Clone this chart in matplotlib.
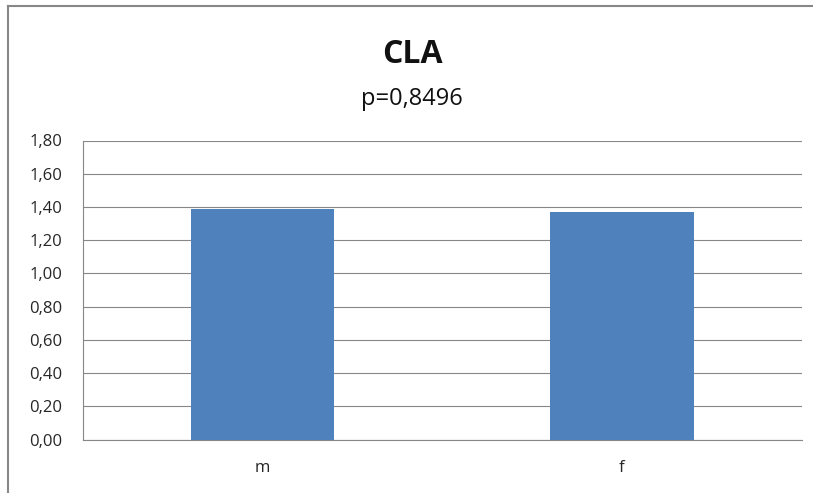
import matplotlib
matplotlib.use("Agg")
import matplotlib.pyplot as plt
from matplotlib.lines import Line2D

# chart data
categories = ["m", "f"]
values = [1.39, 1.37]
y_ticks = [0.0, 0.2, 0.4, 0.6, 0.8, 1.0, 1.2, 1.4, 1.6, 1.8]
y_tick_labels = ["0,00", "0,20", "0,40", "0,60", "0,80", "1,00", "1,20", "1,40", "1,60", "1,80"]
title = "CLA"
subtitle = "p=0,8496"

plt.rcParams["font.family"] = ["Open Sans", "DejaVu Sans"]

grid_color = "#878787"
bar_color = "#4F81BD"

fig = plt.figure(figsize=(8.13, 4.93), dpi=100)
ax = fig.add_axes([83 / 813, 1 - 439.5 / 493, (801.5 - 83) / 813, (439.5 - 140.5) / 493])

x = range(len(categories))
ax.bar(x, values, width=0.4, color=bar_color, zorder=3)

ax.set_xlim(-0.5, len(categories) - 0.5)
ax.set_ylim(0, 1.8)
ax.set_yticks(y_ticks)
ax.set_yticklabels(y_tick_labels)
ax.set_xticks(list(x))
ax.set_xticklabels(categories)

ax.yaxis.grid(True, color=grid_color, linewidth=0.8, zorder=0)
for side in ("top", "right"):
    ax.spines[side].set_visible(False)
for side in ("left", "bottom"):
    ax.spines[side].set_color(grid_color)
    ax.spines[side].set_linewidth(0.8)

ax.tick_params(axis="y", length=0, pad=15, labelsize=12, labelcolor="#262626")
ax.tick_params(axis="x", length=0, pad=15, labelsize=12, labelcolor="#262626")

fig.text(0.507, 1 - 62.7 / 493, title, ha="center", va="baseline",
         fontsize=23, fontweight="bold", color="#111111")
fig.text(0.507, 1 - 105 / 493, subtitle, ha="center", va="baseline",
         fontsize=17, color="#111111")

# outer chart border (top and left only are visible)
fig.add_artist(Line2D([7.5 / 813, 7.5 / 813], [0, 1 - 5.5 / 493], transform=fig.transFigure,
                      color=grid_color, linewidth=1.5))
fig.add_artist(Line2D([7.5 / 813, 1], [1 - 5.5 / 493, 1 - 5.5 / 493], transform=fig.transFigure,
                      color=grid_color, linewidth=1.5))

fig.savefig("out.png", dpi=100)
